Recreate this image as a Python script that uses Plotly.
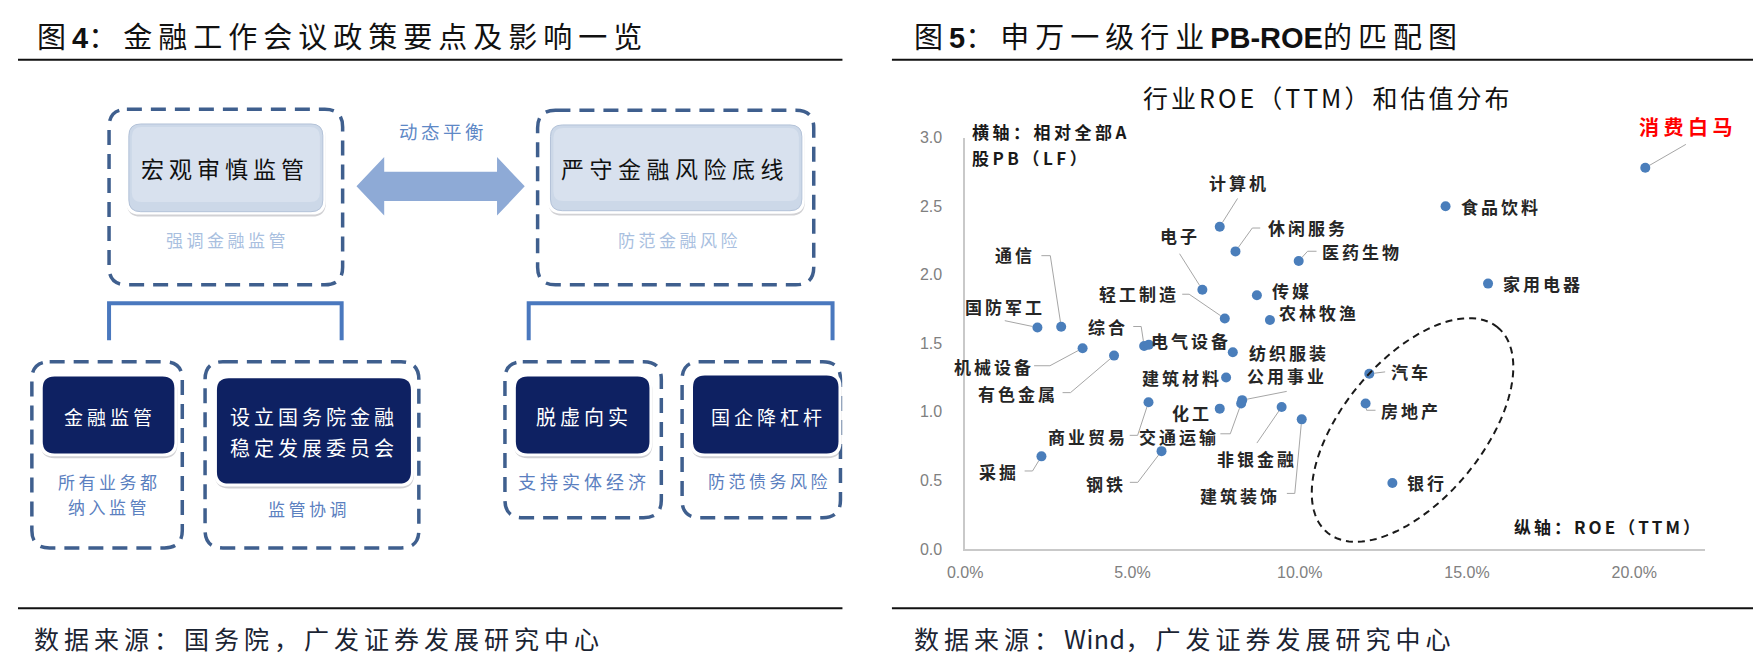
import math
import plotly.graph_objects as go

W, H = 1753, 669

# ---------------- data (right panel) ----------------
industries = ["国防军工", "通信", "机械设备", "有色金属", "综合", "电气设备", "电子", "计算机",
              "休闲服务", "医药生物", "轻工制造", "传媒", "农林牧渔", "纺织服装", "建筑材料",
              "商业贸易", "化工", "公用事业", "交通运输", "非银金融", "建筑装饰", "采掘", "钢铁",
              "食品饮料", "家用电器", "汽车", "房地产", "银行", "消费白马"]
roe = [0.0216, 0.0287, 0.0351, 0.0445, 0.0535, 0.0549, 0.0709, 0.0761,
       0.0808, 0.0997, 0.0776, 0.0872, 0.0911, 0.0800, 0.0780,
       0.0548, 0.0761, 0.0828, 0.0825, 0.0946, 0.1006, 0.0228, 0.0587,
       0.1436, 0.1563, 0.1208, 0.1197, 0.1277, 0.2033]
pb = [1.615, 1.62, 1.464, 1.41, 1.48, 1.49, 1.89, 2.35,
      2.17, 2.10, 1.68, 1.85, 1.67, 1.435, 1.25,
      1.07, 1.023, 1.085, 1.06, 1.035, 0.945, 0.675, 0.713,
      2.50, 1.935, 1.277, 1.061, 0.481, 2.78]
x_ticks = [0.0, 0.05, 0.10, 0.15, 0.20]
y_ticks = [0.0, 0.5, 1.0, 1.5, 2.0, 2.5, 3.0]

# ---------------- label placement (px offsets from the dot, screen y down) ----------------
LABEL_POS = {
    "国防军工": (-32, -21, [(-33, -7)]),
    "通信": (-46, -72, [(-20, -73), (-11, -73)]),
    "机械设备": (-89, 18, [(-49, 18), (-33, 18)]),
    "有色金属": (-96, 38, [(-52, 38), (-44, 38)]),
    "综合": (-36, -20, [(-11, -20), (-3, -20)]),
    "电气设备": (42, -4, []),
    "电子": (-22, -54, [(-23, -37)]),
    "计算机": (19, -44, [(18, -29)]),
    "休闲服务": (73, -24, [(25, -24), (17, -24)]),
    "医药生物": (63, -10, [(18, -10), (9, -10)]),
    "轻工制造": (-86, -25, [(-43, -25), (-36, -25)]),
    "传媒": (35, -5, []),
    "农林牧渔": (49, -7, []),
    "纺织服装": (56, 0, []),
    "建筑材料": (-44, 0, []),
    "商业贸易": (-61, 34, [(-19, 34), (-11, 34)]),
    "化工": (-28, 4, []),
    "公用事业": (45, -25, [(45, -9)]),
    "交通运输": (-62, 33, [(-21, 31), (-11, 31)]),
    "非银金融": (-25, 51, [(-25, 37)]),
    "建筑装饰": (-62, 76, [(-15, 76), (-7, 76)]),
    "采掘": (-42, 15, [(-17, 15), (-9, 15)]),
    "钢铁": (-56, 32, [(-32, 32), (-24, 32)]),
    "食品饮料": (55, 0, []),
    "家用电器": (55, 0, []),
    "汽车": (42, -2, [(16, -2)]),
    "房地产": (45, 7, [(10, 7), (1, 7)]),
    "银行": (35, 0, []),
    "消费白马": (43, -41, [(41, -24)]),
}

# ---------------- geometry ----------------
PX_L, PX_R, PX_T, PX_B = 957, 1704, 133, 555
X_MAX, Y_MAX = 0.221, 3.0
SX = (PX_R - PX_L) / X_MAX
SY = (PX_B - PX_T) / Y_MAX

CJK = "Noto Sans CJK SC"
LAT_B = "font-family:Liberation Sans;font-weight:bold;letter-spacing:0px"


def ls(text, sp):
    return f'<span style="letter-spacing:{sp}px">{text}</span>'


def pp(x, y):
    return f"{x / W:.5f},{1 - y / H:.5f}"


def rrect(x0, y0, x1, y1, r):
    return (f"M{pp(x0 + r, y0)} L{pp(x1 - r, y0)} Q{pp(x1, y0)} {pp(x1, y0 + r)} "
            f"L{pp(x1, y1 - r)} Q{pp(x1, y1)} {pp(x1 - r, y1)} L{pp(x0 + r, y1)} "
            f"Q{pp(x0, y1)} {pp(x0, y1 - r)} L{pp(x0, y0 + r)} Q{pp(x0, y0)} {pp(x0 + r, y0)} Z")


shapes = []
annotations = []


def text(x, y, s, size, color, sp=0, anchor="center", family=CJK, weight=None):
    f = dict(family=family, size=size, color=color)
    if weight:
        f["weight"] = weight
    annotations.append(dict(x=x / W, y=1 - y / H, xref="paper", yref="paper", text=ls(s, sp) if sp else s,
                            showarrow=False, xanchor=anchor, yanchor="middle", font=f))


# ---------------- header / footer lines ----------------
for (x0, x1) in [(0, 833), (883, W)]:
    for yy in (53, 616):
        shapes.append(dict(type="line", xref="paper", yref="paper", x0=x0 / W, x1=x1 / W,
                           y0=1 - yy / H, y1=1 - yy / H, line=dict(color="#111111", width=2)))

text(17, 28, f'图<span style="{LAT_B}">4</span>：金融工作会议政策要点及影响一览', 29, "#111111", 6, "left")
text(903, 28, f'图<span style="{LAT_B}">5</span>：申万一级行业<span style="{LAT_B}">PB-ROE</span>的匹配图',
     29, "#111111", 6, "left")
text(14, 646, "数据来源：国务院，广发证券发展研究中心", 25, "#1B2433", 5, "left")
text(903, 646, '数据来源：<span style="letter-spacing:0.5px">Wind</span>，广发证券发展研究中心', 25, "#1B2433", 5, "left")

# ---------------- left diagram ----------------
DASH_C = "#3F5F8E"
for (x0, y0, x1, y1) in [(92, 104, 328, 284), (525, 105, 804, 284), (14, 363, 166, 554),
                         (189, 363, 405, 554), (492, 363, 650, 523), (671, 363, 831, 523)]:
    shapes.append(dict(type="path", xref="paper", yref="paper", path=rrect(x0, y0, x1, y1, 18),
                       line=dict(color=DASH_C, width=3.5, dash="15px,9px")))

# light boxes (with a soft two-tone fill)
for (x0, y0, x1, y1) in [(112, 119, 308, 209), (538, 120, 792, 208)]:
    shapes.append(dict(type="path", xref="paper", yref="paper", path=rrect(x0 - 2, y0, x1 + 3, y1 + 5, 14),
                       fillcolor="rgba(90,90,100,0.28)", line=dict(width=0)))
    shapes.append(dict(type="path", xref="paper", yref="paper", path=rrect(x0 - 3, y0 - 3, x1 + 3, y1 + 3, 14),
                       fillcolor="#FFFFFF", line=dict(width=0)))
    shapes.append(dict(type="path", xref="paper", yref="paper", path=rrect(x0, y0, x1, y1, 12),
                       fillcolor="#CCD8E8", line=dict(color="#B3C2D8", width=1)))
    shapes.append(dict(type="path", xref="paper", yref="paper", path=rrect(x0 + 3, y0 + 3, x1 - 3, y1 - 10, 10),
                       fillcolor="#D8E1EE", line=dict(width=0)))

# navy boxes
for (x0, y0, x1, y1) in [(25, 378, 158, 457), (201, 380, 397, 488), (503, 378, 638, 457), (682, 377, 829, 457)]:
    shapes.append(dict(type="path", xref="paper", yref="paper", path=rrect(x0 - 2, y0, x1 + 3, y1 + 5, 14),
                       fillcolor="rgba(90,90,100,0.28)", line=dict(width=0)))
    shapes.append(dict(type="path", xref="paper", yref="paper", path=rrect(x0 - 3, y0 - 3, x1 + 3, y1 + 3, 14),
                       fillcolor="#FFFFFF", line=dict(width=0)))
    shapes.append(dict(type="path", xref="paper", yref="paper", path=rrect(x0, y0, x1, y1, 12),
                       fillcolor="#0E2162", line=dict(width=0)))

# brackets
BR_C = "#4A78BE"
for (x0, x1) in [(92, 327), (516, 823)]:
    shapes.append(dict(type="path", xref="paper", yref="paper",
                       path=f"M{pp(x0, 341)} L{pp(x0, 303)} L{pp(x1, 303)} L{pp(x1, 341)}",
                       line=dict(color=BR_C, width=4)))

# double arrow
arrow_pts = [(342, 183), (370, 153), (370, 168), (484, 168), (484, 153), (512, 183),
             (484, 213), (484, 198), (370, 198), (370, 213)]
shapes.append(dict(type="path", xref="paper", yref="paper",
                   path="M" + " L".join(pp(a, b) for a, b in arrow_pts) + " Z",
                   fillcolor="#8EAAD6", line=dict(width=0)))

text(209, 164, "宏观审慎监管", 23, "#111111", 5)
text(664, 164, "严守金融风险底线", 23, "#111111", 5.5)
text(212, 238, "强调金融监管", 17, "#A9BFDF", 3.5)
text(668, 238, "防范金融风险", 17, "#A9BFDF", 3.5)
text(429, 126, "动态平衡", 18.5, "#5E88C6", 3.5)
text(93, 419, "金融监管", 19, "#FFFFFF", 4)
text(299, 419, "设立国务院金融", 20, "#FFFFFF", 4)
text(299, 451, "稳定发展委员会", 20, "#FFFFFF", 4)
text(572, 419, "脱虚向实", 20, "#FFFFFF", 4)
text(758, 419, "国企降杠杆", 19, "#FFFFFF", 4)
text(92, 486, "所有业务都", 17, "#5B80C0", 3.5)
text(92, 512, "纳入监管", 17, "#5B80C0", 3.5)
text(294, 514, "监管协调", 17, "#5B80C0", 3.5)
text(572, 485, "支持实体经济", 18, "#5B80C0", 4)
text(759, 485, "防范债务风险", 17, "#5B80C0", 3.5)

# ---------------- right chart ----------------
lx, ly = [], []
for name, xv, yv in zip(industries, roe, pb):
    dx, dy, pts = LABEL_POS[name]
    if pts:
        seq = list(pts)
        px_, py_ = seq[-1]
        d = math.hypot(px_, py_)
        if d > 6:
            seq.append((px_ * 5 / d, py_ * 5 / d))
        for (ox, oy) in seq:
            lx.append(xv + ox / SX)
            ly.append(yv - oy / SY)
        lx.append(None)
        ly.append(None)
    is_red = name == "消费白马"
    annotations.append(dict(
        x=xv, y=yv, xref="x", yref="y", xshift=dx, yshift=-dy, showarrow=False,
        text=ls(name, 4.5 if is_red else 3),
        xanchor="center", yanchor="middle",
        font=dict(family=CJK, size=20 if is_red else 17, color="#FF0000" if is_red else "#262626", weight="bold")))

fig = go.Figure()
fig.add_trace(go.Scatter(x=lx, y=ly, mode="lines", line=dict(color="#A6A6A6", width=1),
                         hoverinfo="skip", showlegend=False))
fig.add_trace(go.Scatter(x=roe, y=pb, mode="markers", text=industries,
                         marker=dict(color="#4A7EBB", size=10, line=dict(width=0)),
                         showlegend=False))

# dashed ellipse around the financial / property cluster
EC_X, EC_Y, EA, EB, ETH = 1409, 433, 136, 71, math.radians(51)
ell = []
for i in range(121):
    t = 2 * math.pi * i / 120
    ex = EC_X + EA * math.cos(t) * math.cos(ETH) + EB * math.sin(t) * math.sin(ETH)
    ey = EC_Y - EA * math.cos(t) * math.sin(ETH) + EB * math.sin(t) * math.cos(ETH)
    ell.append(pp(ex, ey))
shapes.append(dict(type="path", xref="paper", yref="paper", path="M" + " L".join(ell) + " Z",
                   line=dict(color="#1A1A1A", width=2, dash="7px,5px")))

# chart title and axis notes
text(1323, 91, "行业ROE（TTM）和估值分布", 25, "#111111", 3)
text(962, 127, "横轴：相对全部A", 17, "#1A1A1A", 3.5, "left", weight="bold")
text(962, 153, "股PB（LF）", 17, "#1A1A1A", 3.5, "left", weight="bold")
text(1704, 532, "纵轴：ROE（TTM）", 17, "#1A1A1A", 3, "right", weight="bold")

fig.update_layout(
    width=W, height=H, autosize=False,
    margin=dict(l=0, r=0, t=0, b=0),
    paper_bgcolor="#FFFFFF", plot_bgcolor="rgba(0,0,0,0)",
    showlegend=False,
    shapes=shapes, annotations=annotations,
    xaxis=dict(domain=[PX_L / W, PX_R / W], range=[0, X_MAX], tickvals=x_ticks, tickformat=".1%",
               showgrid=False, zeroline=False, showline=True, linecolor="#C9C9C9", linewidth=1.5,
               ticks="", ticklabelstandoff=8,
               tickfont=dict(family="Liberation Sans", size=16, color="#808080"), fixedrange=True),
    yaxis=dict(domain=[1 - PX_B / H, 1 - PX_T / H], range=[0, Y_MAX], tickvals=y_ticks, tickformat=".1f",
               showgrid=False, zeroline=False, showline=True, linecolor="#C9C9C9", linewidth=1.5,
               ticks="", ticklabelstandoff=18,
               tickfont=dict(family="Liberation Sans", size=16, color="#808080"), fixedrange=True),
)

fig.write_html("out.html", config={"displayModeBar": False},
               post_script="document.body.style.margin='0px';")
